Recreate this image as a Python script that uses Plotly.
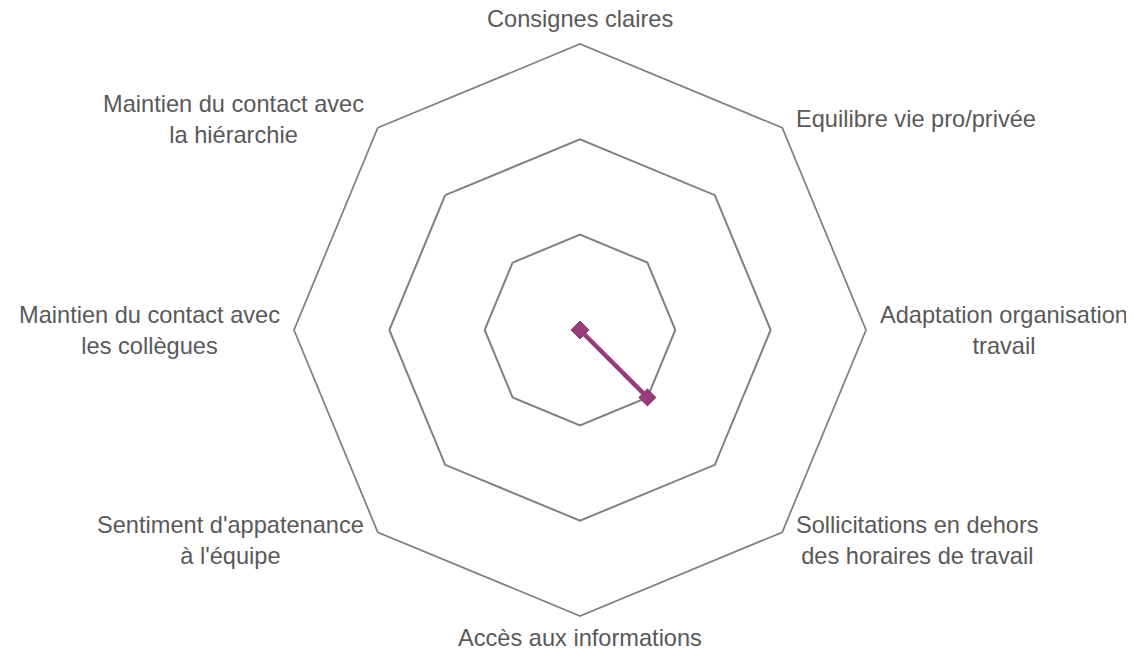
import math
import plotly.graph_objects as go

categories = [
    "Consignes claires",
    "Equilibre vie pro/privée",
    "Adaptation organisation<br>travail",
    "Sollicitations en dehors<br>des horaires de travail",
    "Accès aux informations",
    "Sentiment d'appatenance<br>à l'équipe",
    "Maintien du contact avec<br>les collègues",
    "Maintien du contact avec<br>la hiérarchie",
]
values = [0, 0, 0, 1, 0, 0, 0, 0]
ring_ticks = [1, 2, 3]

LINE_COLOR = "#963C78"
GRID_COLOR = "#808080"
TEXT_COLOR = "#595959"
FONT = "Liberation Sans, Arial, sans-serif"
FONT_SIZE = 23.6
LABEL_PAD = 12  # px between outer ring and label

# plotly does not draw markers for points at exactly r=0, nudge them a hair
r_plot = [v if v else 1e-6 for v in values]

fig = go.Figure()
fig.add_trace(go.Scatterpolar(
    r=r_plot,
    theta=categories,
    mode="lines+markers",
    line=dict(color=LINE_COLOR, width=4.5),
    marker=dict(symbol="diamond", size=14, color=LINE_COLOR),
    cliponaxis=False,
    showlegend=False,
    hoverinfo="skip",
))

# category labels as centred annotations placed just outside the outer ring
annotations = []
n = len(categories)
for i, cat in enumerate(categories):
    ang = 2 * math.pi * i / n
    ux, uy = math.sin(ang), math.cos(ang)
    if ux > 0.1:
        xanchor, xshift = "left", LABEL_PAD
    elif ux < -0.1:
        xanchor, xshift = "right", -LABEL_PAD
    else:
        xanchor, xshift = "center", 0
    pad = LABEL_PAD
    if uy > 0.9:
        yanchor = "bottom"
        pad = LABEL_PAD * 0.8
    elif uy < -0.9:
        yanchor = "top"
        pad = LABEL_PAD * 0.6
    else:
        yanchor = "middle"
    annotations.append(dict(
        x=0.5 + 0.5 * ux,
        y=0.5 + 0.5 * uy,
        xref="paper",
        yref="paper",
        text=cat,
        align="center",
        showarrow=False,
        xanchor=xanchor,
        yanchor=yanchor,
        xshift=xshift,
        yshift=pad * uy,
        font=dict(family=FONT, size=FONT_SIZE, color=TEXT_COLOR),
    ))

fig.update_layout(
    width=1134,
    height=651,
    margin=dict(l=286, r=276, t=36, b=43),
    paper_bgcolor="white",
    plot_bgcolor="white",
    font=dict(family=FONT, size=FONT_SIZE, color=TEXT_COLOR),
    annotations=annotations,
    polar=dict(
        bgcolor="white",
        gridshape="linear",
        domain=dict(x=[0, 1], y=[0, 1]),
        radialaxis=dict(
            range=[0, 3],
            tickvals=ring_ticks,
            showticklabels=False,
            ticks="",
            showline=False,
            gridcolor=GRID_COLOR,
            gridwidth=1.75,
        ),
        angularaxis=dict(
            rotation=90,
            direction="clockwise",
            showgrid=False,
            showticklabels=False,
            showline=True,
            linecolor=GRID_COLOR,
            linewidth=1.75,
            ticks="",
        ),
    ),
)

fig.write_html("out.html")
